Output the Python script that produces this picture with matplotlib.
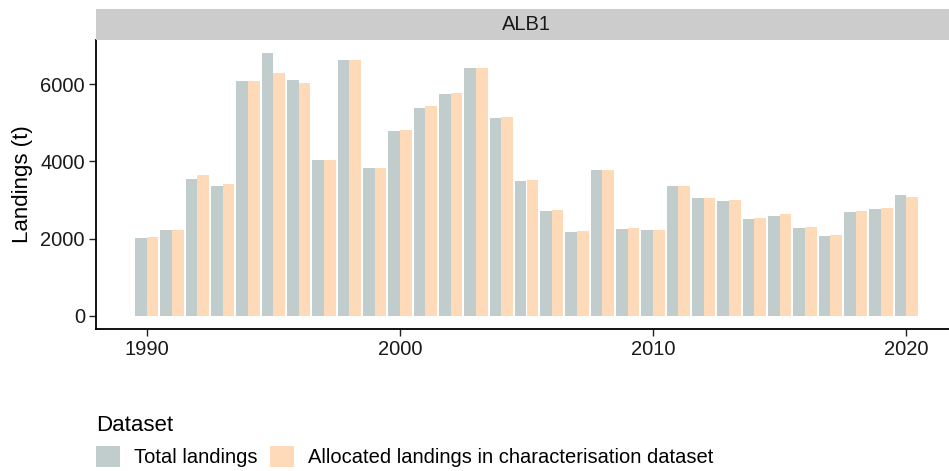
import matplotlib
matplotlib.use("Agg")
import matplotlib.pyplot as plt
from matplotlib.patches import Patch
import numpy as np

plt.rcParams["font.family"] = ["Liberation Sans", "DejaVu Sans"]

# Annual landings (t) for ALB1
years = list(range(1990, 2021))
total_landings = [2020, 2225, 3545, 3360, 6080, 6800, 6100, 4035, 6620, 3830,
                  4785, 5380, 5740, 6415, 5120, 3490, 2715, 2170, 3775, 2250,
                  2225, 3365, 3050, 2975, 2510, 2585, 2275, 2070, 2690, 2765,
                  3130]
allocated_landings = [2045, 2225, 3645, 3415, 6080, 6285, 6025, 4035, 6620, 3830,
                      4810, 5430, 5765, 6415, 5145, 3515, 2740, 2195, 3775, 2275,
                      2225, 3365, 3050, 3000, 2535, 2640, 2300, 2095, 2715, 2795,
                      3080]
series_labels = ["Total landings", "Allocated landings in characterisation dataset"]
series_colors = ["#C1CDCD", "#FFDAB9"]
panel_title = "ALB1"

W, H = 949, 471
fig = plt.figure(figsize=(W / 100, H / 100), dpi=100)

# panel (right edge runs just past the figure border)
left, right, bottom, top = 96, 957, 329, 40
ax = fig.add_axes([left / W, 1 - bottom / H, (right - left) / W, (bottom - top) / H])

x = np.array(years, dtype=float)
bw = 0.46
ax.bar(x - bw / 2, total_landings, width=bw, color=series_colors[0], linewidth=0)
ax.bar(x + bw / 2, allocated_landings, width=bw, color=series_colors[1], linewidth=0)

ymax = max(max(total_landings), max(allocated_landings))
ax.set_ylim(-0.05 * ymax, 1.05 * ymax)
xlo, xhi = x[0] - bw, x[-1] + bw
pad = 0.05 * (xhi - xlo)
ax.set_xlim(xlo - pad, xhi + pad)

ax.set_yticks([0, 2000, 4000, 6000])
ax.set_xticks([1990, 2000, 2010, 2020])
ax.tick_params(axis="both", labelsize=14.5, length=5, width=1.0, color="#222222",
               labelcolor="#1a1a1a", pad=3)
for s in ["top", "right"]:
    ax.spines[s].set_visible(False)
for s in ["left", "bottom"]:
    ax.spines[s].set_linewidth(1.3)
    ax.spines[s].set_color("black")
ax.set_ylabel("Landings (t)", fontsize=16, labelpad=5)

# facet strip
strip_top = 9
sax = fig.add_axes([left / W, 1 - top / H, (right - left) / W, (top - strip_top) / H])
sax.set_facecolor("#CCCCCC")
sax.set_xticks([])
sax.set_yticks([])
for s in sax.spines.values():
    s.set_visible(False)
sax.text(0.5, 0.5, panel_title, ha="center", va="center", fontsize=14.5,
         color="#1a1a1a", transform=sax.transAxes)

# legend below the panel
handles = [Patch(facecolor=c, edgecolor="none") for c in series_colors]
leg = fig.legend(handles, series_labels, title="Dataset", ncol=2,
                 loc="upper left", bbox_to_anchor=(96 / W, 1 - 415 / H),
                 frameon=False, fontsize=14.5, title_fontsize=16,
                 handlelength=1.2, handleheight=1.2, handletextpad=0.7,
                 columnspacing=0.6, borderpad=0, borderaxespad=0,
                 alignment="left")

fig.savefig("out.png", dpi=100)
